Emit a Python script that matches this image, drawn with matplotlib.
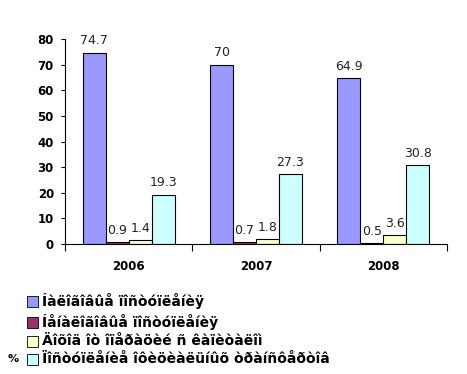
import matplotlib.pyplot as plt
import numpy as np
from matplotlib.patches import Rectangle

years = ['2006', '2007', '2008']
series_names = ['Íàëîãîâûå ïîñòóïëåíèÿ',
                'Íåíàëîãîâûå ïîñòóïëåíèÿ',
                'Äîõîä îò îïåðàöèé ñ êàïèòàëîì',
                'Ïîñòóïëåíèå îôèöèàëüíûõ òðàíñôåðòîâ']
tax = [74.7, 70, 64.9]
nontax = [0.9, 0.7, 0.5]
capital = [1.4, 1.8, 3.6]
transfers = [19.3, 27.3, 30.8]
colors = ['#9999FF', '#993366', '#FFFFCC', '#CCFFFF']

fig = plt.figure(figsize=(4.67, 3.74), dpi=100)
W, H = 467, 374
ax = fig.add_axes([65 / W, 1 - 244 / H, (447 - 65) / W, (244 - 39) / H])

x = np.arange(len(years))
w = 0.18
for i, vals in enumerate([tax, nontax, capital, transfers]):
    pos = x + (i - 1.5) * w
    ax.bar(pos, vals, width=w, color=colors[i], edgecolor='black', linewidth=0.8)
    for p, v in zip(pos, vals):
        ax.text(p, v + 2, '%g' % v, ha='center', va='bottom', fontsize=9, color='#222222')

ax.set_xlim(-0.5, 2.5)
ax.set_ylim(0, 80)
ax.set_yticks(range(0, 81, 10))
for s in ['top', 'right']:
    ax.spines[s].set_visible(False)
ax.spines['left'].set_linewidth(0.8)
ax.spines['bottom'].set_linewidth(0.8)
ax.set_xticks([-0.5, 0.5, 1.5, 2.5])
ax.set_xticklabels([])
ax.tick_params(axis='x', length=5, direction='out')
ax.tick_params(axis='y', length=3, direction='out', labelsize=8.5, pad=5)
for t in ax.get_yticklabels():
    t.set_fontweight('bold')
for xi, yr in zip(x, years):
    ax.text(xi, -8.7, yr, ha='center', va='center', fontsize=8.5, fontweight='bold')

# legend drawn by hand so rows sit where the reference has them
row_y = [301, 322, 341, 359]
for name, c, yy in zip(series_names, colors, row_y):
    fig.patches.append(Rectangle((27 / W, 1 - (yy + 6) / H), 11 / W, 11 / H,
                                 transform=fig.transFigure, facecolor=c,
                                 edgecolor='black', linewidth=0.6))
    fig.text(42 / W, 1 - yy / H, name, fontsize=10, fontweight='bold', va='center')
fig.text(8 / W, 1 - 359 / H, '%', fontsize=8, fontweight='bold', va='center')

fig.savefig('out.png', dpi=100)
